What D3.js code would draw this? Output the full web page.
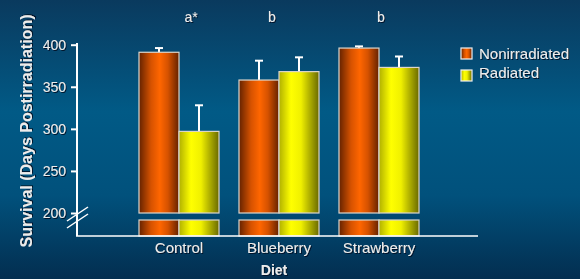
<!DOCTYPE html>
<html><head><meta charset="utf-8">
<script src="https://cdn.jsdelivr.net/npm/d3@7"></script>
<style>
html,body{margin:0;padding:0;background:#004a72;}
svg{display:block;}
text{font-family:"Liberation Sans",Arial,sans-serif;fill:#ececec;}
</style></head>
<body><svg id="c" width="580" height="279"></svg>
<script>
const categories = ["Control","Blueberry","Strawberry"];
const series = ["Nonirradiated","Radiated"];
const nonirradiated = [391, 358, 396];
const nonirradiatedErr = [396, 381, 398];
const radiated = [297, 368, 373];
const radiatedErr = [328, 385, 386];
const letters = ["a*","b","b"];
const letterOffsets = [12,-7,2];
const yTicks = [200,250,300,350,400];

const svg = d3.select("#c");
const W=580,H=279;
const defs = svg.append("defs");
const bg = defs.append("linearGradient").attr("id","bg").attr("x1",0).attr("y1",0).attr("x2",0).attr("y2",1);
[["0%","#0a3a5e"],["40%","#015a86"],["70%","#01517c"],["100%","#032e50"]].forEach(s=>bg.append("stop").attr("offset",s[0]).attr("stop-color",s[1]));
const go = defs.append("linearGradient").attr("id","gO").attr("x1",0).attr("x2",1).attr("y1",0).attr("y2",0);
[["0%","#642200"],["30%","#d65200"],["52%","#ff6600"],["72%","#d65200"],["100%","#642200"]].forEach(s=>go.append("stop").attr("offset",s[0]).attr("stop-color",s[1]));
const gy = defs.append("linearGradient").attr("id","gY").attr("x1",0).attr("x2",1).attr("y1",0).attr("y2",0);
[["0%","#b0b000"],["30%","#ffff00"],["55%","#f0f000"],["100%","#6a6a00"]].forEach(s=>gy.append("stop").attr("offset",s[0]).attr("stop-color",s[1]));
const f = defs.append("filter").attr("id","sh").attr("x","-20%").attr("y","-20%").attr("width","140%").attr("height","140%");
f.append("feDropShadow").attr("dx",1).attr("dy",1).attr("stdDeviation",0.3).attr("flood-color","#001020").attr("flood-opacity",0.9);

svg.append("rect").attr("width",W).attr("height",H).attr("fill","url(#bg)");

const x = d3.scaleBand().domain(categories).range([129,429]).paddingInner(0.2).paddingOuter(0.1);
const xs = d3.scaleBand().domain(series).range([0,x.bandwidth()]);
const y = d3.scaleLinear().domain([200,400]).range([213,44.7]);
const fills = {"Nonirradiated":"url(#gO)","Radiated":"url(#gY)"};
const axisX = 77, baseY = 236, stubTop = 220;

const data = [];
categories.forEach((c,i)=>{
  data.push({c,s:"Nonirradiated",v:nonirradiated[i],e:nonirradiatedErr[i]});
  data.push({c,s:"Radiated",v:radiated[i],e:radiatedErr[i]});
});

// error bars (behind bars)
const eb = svg.append("g").attr("stroke","#ffffff").attr("stroke-width",2);
data.forEach(d=>{
  const cx = x(d.c)+xs(d.s)+xs.bandwidth()/2;
  eb.append("line").attr("x1",cx).attr("x2",cx).attr("y1",y(d.v)).attr("y2",y(d.e));
  eb.append("line").attr("x1",cx-4).attr("x2",cx+4).attr("y1",y(d.e)).attr("y2",y(d.e));
});

// bars
const bars = svg.append("g");
data.forEach(d=>{
  const bx = x(d.c)+xs(d.s);
  bars.append("rect").attr("x",bx).attr("y",y(d.v)).attr("width",xs.bandwidth()).attr("height",y(200)-y(d.v))
    .attr("fill",fills[d.s]).attr("stroke","#ddd6cc").attr("stroke-width",1.2);
  bars.append("rect").attr("x",bx).attr("y",stubTop).attr("width",xs.bandwidth()).attr("height",baseY-stubTop)
    .attr("fill",fills[d.s]).attr("stroke","#ddd6cc").attr("stroke-width",1.2);
});

// axes
const yAxis = d3.axisLeft(y).tickValues(yTicks).tickSize(6).tickPadding(5);
const ga = svg.append("g").attr("transform",`translate(${axisX},0)`).call(yAxis);
ga.select(".domain").remove();
ga.selectAll(".tick line").attr("stroke","#ffffff").attr("stroke-width",2);
ga.selectAll(".tick text").attr("font-size",14).attr("fill","#ececec").attr("font-family","Liberation Sans, Arial, sans-serif").attr("filter","url(#sh)");
svg.append("line").attr("x1",axisX).attr("x2",axisX).attr("y1",43).attr("y2",baseY).attr("stroke","#fff").attr("stroke-width",2);
svg.append("line").attr("x1",axisX-1).attr("x2",478).attr("y1",baseY).attr("y2",baseY).attr("stroke","#fff").attr("stroke-width",1.5);
// break marks
svg.append("line").attr("x1",67).attr("y1",221).attr("x2",88).attr("y2",207).attr("stroke","#fff").attr("stroke-width",1.5);
svg.append("line").attr("x1",67).attr("y1",228).attr("x2",88).attr("y2",214).attr("stroke","#fff").attr("stroke-width",1.5);

// category labels
svg.append("g").selectAll("text").data(categories).join("text")
  .attr("x",d=>x(d)+x.bandwidth()/2).attr("y",253).attr("text-anchor","middle").attr("font-size",15)
  .attr("filter","url(#sh)").text(d=>d);
// significance letters
svg.append("g").selectAll("text").data(categories).join("text")
  .attr("x",(d,i)=>x(d)+x.bandwidth()/2+letterOffsets[i]).attr("y",22).attr("text-anchor","middle").attr("font-size",14)
  .attr("filter","url(#sh)").text((d,i)=>letters[i]);

// titles
svg.append("text").attr("transform","translate(32,131) rotate(-90)").attr("text-anchor","middle")
  .attr("font-size",16).attr("font-weight","bold").attr("filter","url(#sh)").text("Survival (Days Postirradiation)");
svg.append("text").attr("x",274).attr("y",275).attr("text-anchor","middle")
  .attr("font-size",14).attr("font-weight","bold").attr("filter","url(#sh)").text("Diet");

// legend
const lg = svg.append("g");
series.forEach((s,i)=>{
  lg.append("rect").attr("x",461).attr("y",48+i*22).attr("width",11).attr("height",11)
    .attr("fill",fills[s]).attr("stroke","#f0f0f0").attr("stroke-width",1.2);
  lg.append("text").attr("x",479).attr("y",59+i*19).attr("font-size",15).attr("filter","url(#sh)").text(s);
});
</script></body></html>
